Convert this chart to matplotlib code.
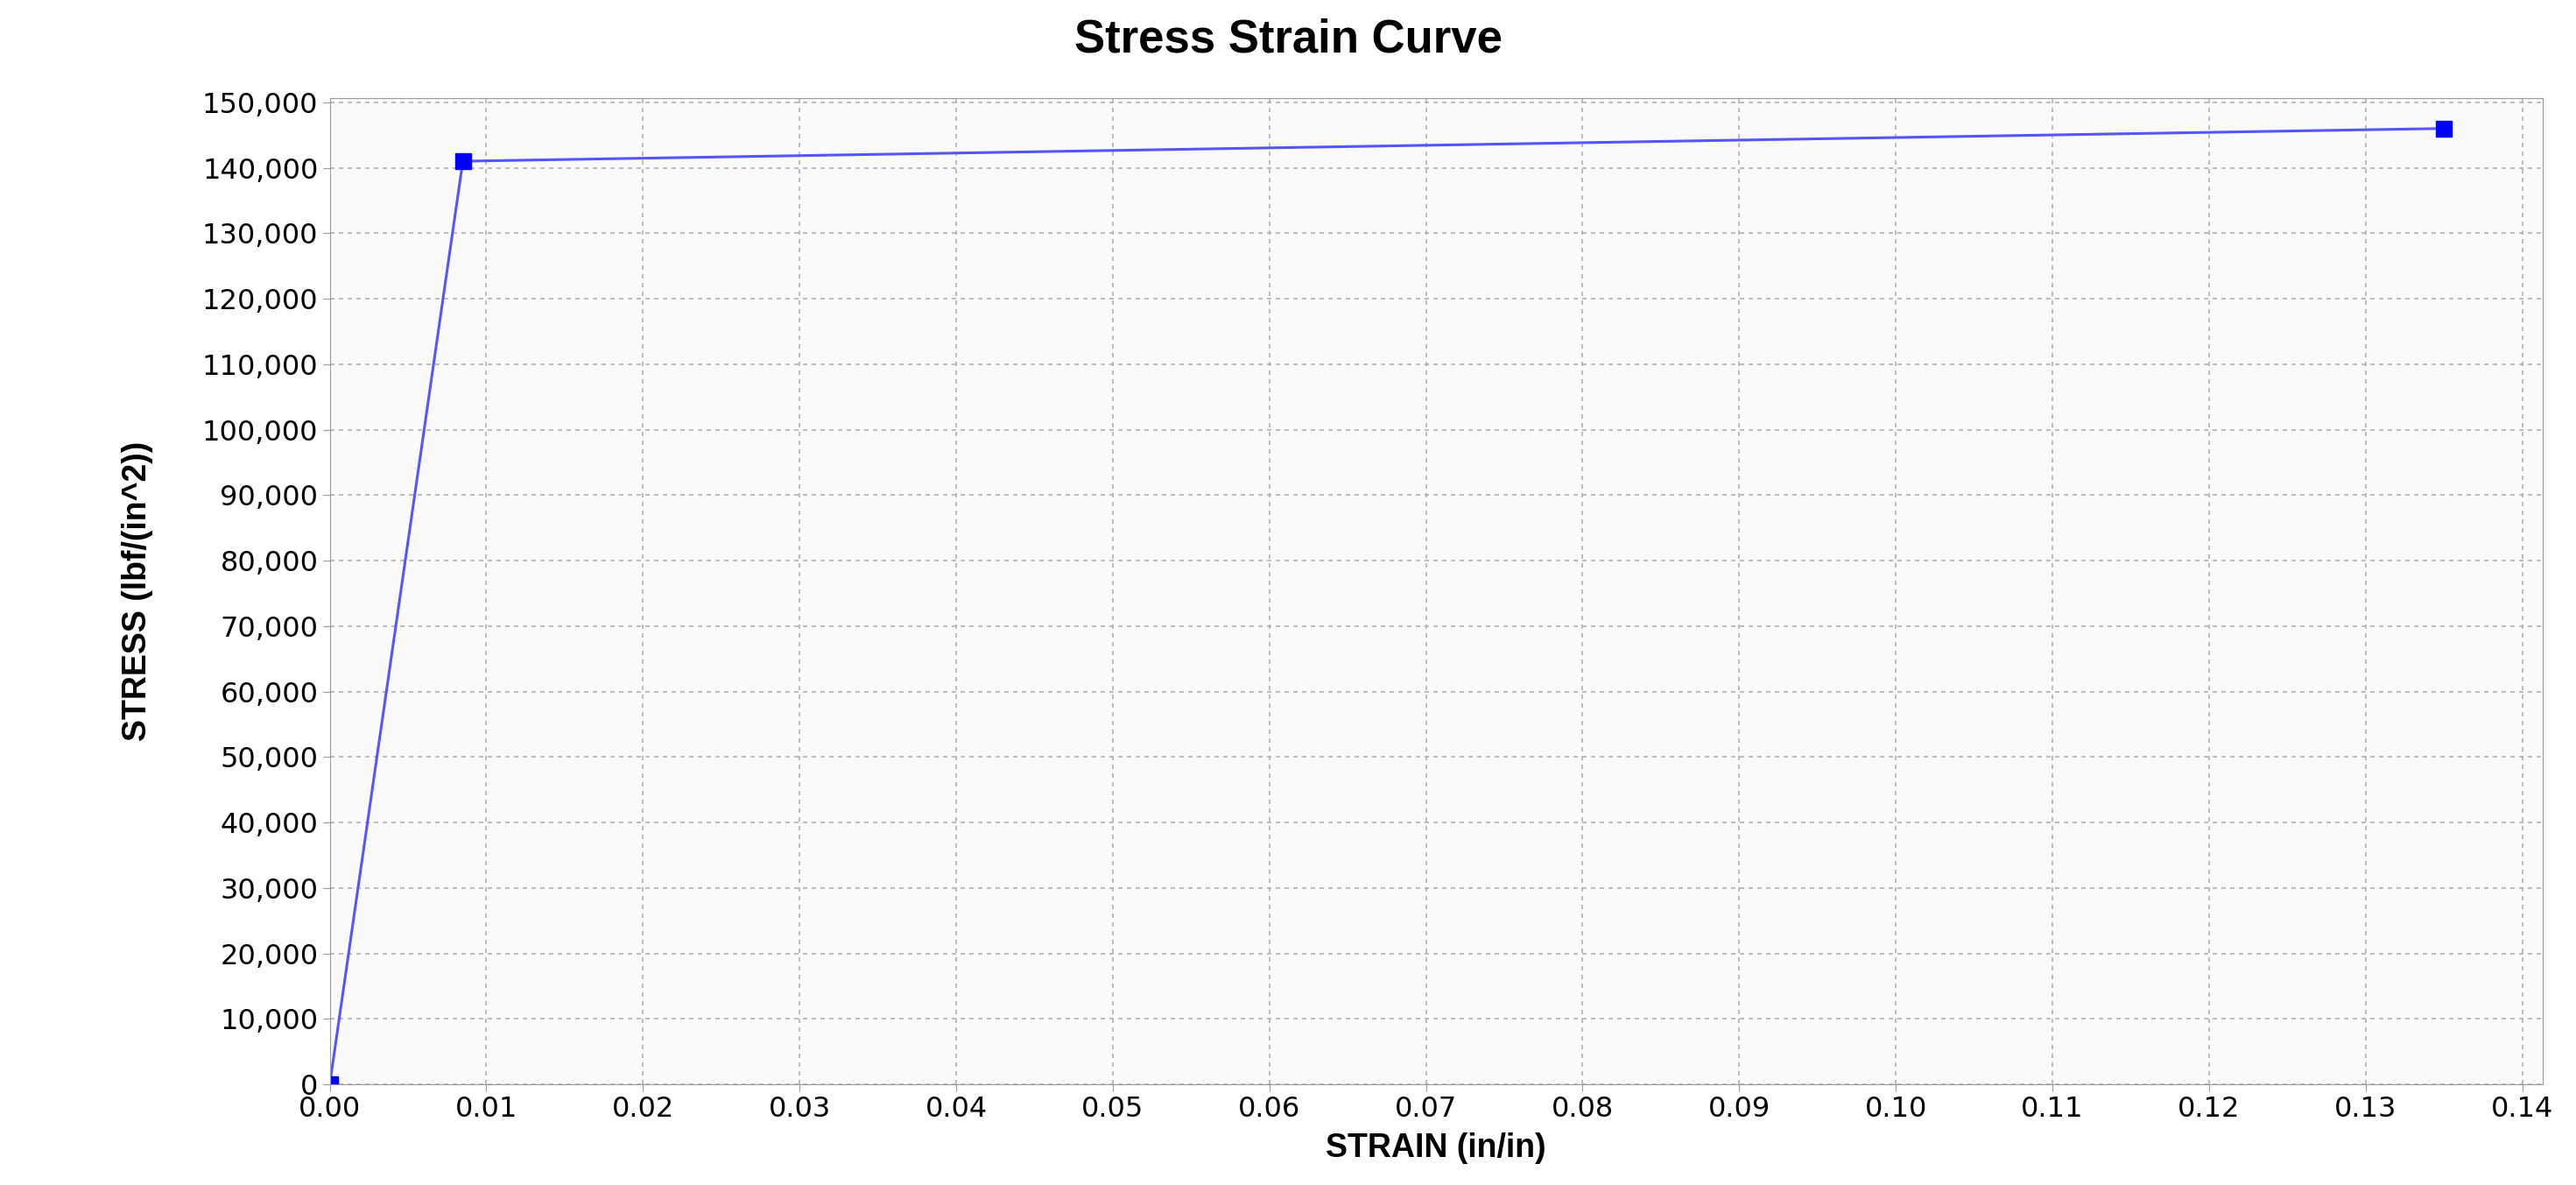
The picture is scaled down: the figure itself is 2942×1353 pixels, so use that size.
import matplotlib.pyplot as plt
from matplotlib.ticker import FuncFormatter, MultipleLocator

strain = [0.0, 0.0085, 0.135]
stress = [0, 141000, 146000]

plt.rcParams['font.family'] = ['Liberation Sans', 'DejaVu Sans']

fig = plt.figure(figsize=(29.42, 13.53), dpi=100)
ax = fig.add_axes([0.128, 0.085, 0.859, 0.832])
ax.set_facecolor('#fafafa')

ax.plot(strain, stress, '-', color='#5555ff', lw=2.2)
ax.plot(strain, stress, 's', color='#0000ff', ms=13, ls='none')

ax.set_xlim(0, 0.1413)
ax.set_ylim(0, 150600)
ax.xaxis.set_major_locator(MultipleLocator(0.01))
ax.yaxis.set_major_locator(MultipleLocator(10000))
ax.xaxis.set_major_formatter(FuncFormatter(lambda v, p: f"{v:.2f}"))
ax.yaxis.set_major_formatter(FuncFormatter(lambda v, p: f"{int(round(v)):,}"))
ax.tick_params(labelsize=23, length=6, color='#999999')
for lab in ax.get_xticklabels() + ax.get_yticklabels():
    lab.set_family('DejaVu Sans')
ax.grid(True, color='#b0b0b0', linestyle=(0, (3, 3)), lw=1.2)
for s in ax.spines.values():
    s.set_color('#999999')

fig.suptitle('Stress Strain Curve', x=0.5, y=0.985, fontsize=38, fontweight='bold')
ax.set_xlabel('STRAIN (in/in)', fontsize=27, fontweight='bold', labelpad=8)
ax.set_ylabel('STRESS (lbf/(in^2))', fontsize=27, fontweight='bold', labelpad=40)

fig.savefig('out.png', dpi=100)
